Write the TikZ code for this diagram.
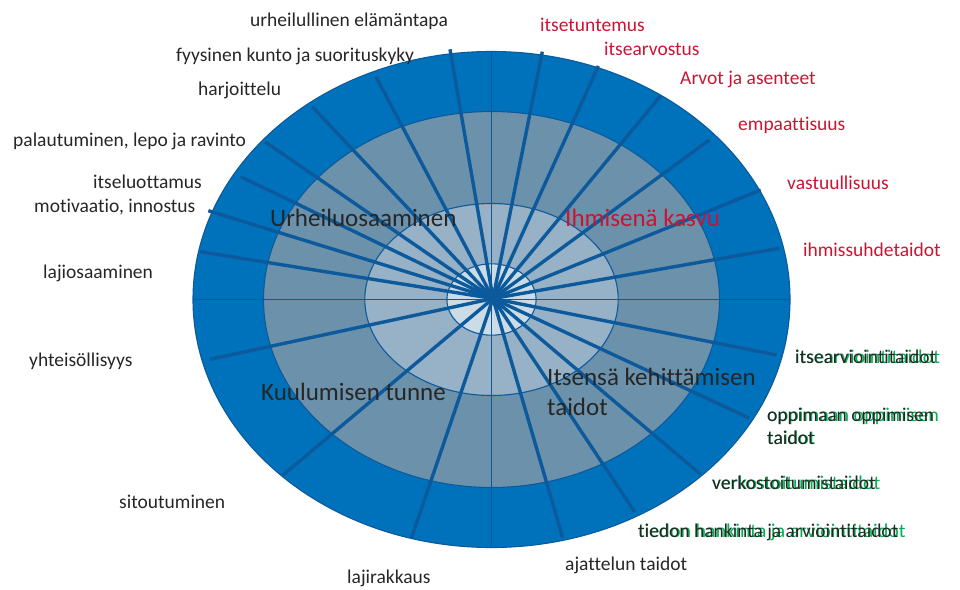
\documentclass[tikz,border=0pt]{standalone}
\usepackage{fontspec}
\setmainfont{Carlito}[Ligatures={NoCommon}]
\usepackage{graphicx}

\definecolor{ringA}{RGB}{0,114,188}
\definecolor{ringB}{RGB}{107,145,171}
\definecolor{ringC}{RGB}{151,177,198}
\definecolor{ringD}{RGB}{204,220,230}
\definecolor{spoke}{RGB}{12,90,156}
\definecolor{txt}{RGB}{38,38,38}
\definecolor{txtred}{RGB}{204,20,50}
\definecolor{txtgreen}{RGB}{0,176,80}

\tikzset{
  ring/.style={draw=spoke, line width=1.1pt},
  axisline/.style={draw=spoke, line width=1.1pt},
  spokeline/.style={draw=spoke, line width=3.4pt},
  lbl/.style={anchor=base west, inner sep=0pt, text=txt, font=\fontsize{19.5}{23}\selectfont},
  lblred/.style={lbl, text=txtred},
  big/.style={anchor=base west, inner sep=0pt, text=txt, font=\fontsize{25}{30}\selectfont, align=left},
}

% black text printed over a slightly wider green copy of itself
\newcommand{\ghost}[1]{\rlap{\textcolor{txtgreen}{\scalebox{1.028}[1]{#1}}}#1}

\begin{document}
\begin{tikzpicture}[x=1pt, y=-1pt]
\useasboundingbox (0,0) rectangle (960,589);

% concentric rings
\coordinate (o) at (491.5,299.5);
\path[ring, fill=ringA] (o) ellipse [x radius=298.5pt, y radius=248pt];
\path[ring, fill=ringB] (o) ellipse [x radius=228pt, y radius=188pt];
\path[ring, fill=ringC] (o) ellipse [x radius=126.7pt, y radius=96pt];
\path[ring, fill=ringD] (o) ellipse [x radius=44.6pt, y radius=35.7pt];

% thin axes
\coordinate (top) at (491.5,51.5);
\coordinate (bot) at (491.5,547.5);
\coordinate (lft) at (193,299.5);
\coordinate (rgt) at (790,299.5);
\path[axisline] (top) -- (bot);
\path[axisline] (lft) -- (rgt);

% spokes
\coordinate (c) at (493,298.5);
\foreach \n/\px/\py in {
  s1/450/49.3, s2/376/76.7, s3/312.3/106.7, s4/265/141.7, s5/240.7/176.7,
  s6/208.3/210.7, s7/200/251.7, s8/210/359.3, s9/282.6/475.4, s10/411.5/538,
  s11/562.7/538, s12/634.7/512, s13/700.5/474.3, s14/749/418, s15/776.5/355,
  s16/779.3/248.3, s17/760.7/190, s18/709.3/140, s19/660.7/95.7, s20/598.3/66,
  s21/542.3/51.7}
{
  \coordinate (\n) at (\px,\py);
  \path[spokeline, line cap=butt] (c) -- (\n);
}

% sector titles
\node[big] (urh) at (270,226) {Urheiluosaaminen};
\node[big, text=txtred] (ihm) at (565,226) {Ihmisenä kasvu};
\node[big] (kuu) at (261,400) {Kuulumisen tunne};
\node[big] (its) at (547,415) {Itsensä kehittämisen\\taidot};

% left labels
\node[lbl] (l1) at (250,27) {urheilullinen elämäntapa};
\node[lbl] (l2) at (176,61) {fyysinen kunto ja suorituskyky};
\node[lbl] (l3) at (198,95) {harjoittelu};
\node[lbl] (l4) at (13,146) {palautuminen, lepo ja ravinto};
\node[lbl] (l5) at (93,188) {itseluottamus};
\node[lbl] (l6) at (34,212) {motivaatio, innostus};
\node[lbl] (l7) at (43,278) {lajiosaaminen};
\node[lbl] (l8) at (29,366) {yhteisöllisyys};
\node[lbl] (l9) at (119,508) {sitoutuminen};
\node[lbl] (l10) at (347,583.5) {lajirakkaus};
\node[lbl] (l11) at (565,570) {ajattelun taidot};

% right labels, red
\node[lblred] (r1) at (540,31) {itsetuntemus};
\node[lblred] (r2) at (604,55) {itsearvostus};
\node[lblred] (r3) at (680,84) {Arvot ja asenteet};
\node[lblred] (r4) at (738,130) {empaattisuus};
\node[lblred] (r5) at (787,189) {vastuullisuus};
\node[lblred] (r6) at (803,256) {ihmissuhdetaidot};

% right labels, black over green
\node[lbl] (k1) at (795,363) {\ghost{itsearviointitaidot}};
\node[lbl] (k2) at (767,421) {\ghost{oppimaan oppimisen}};
\node[lbl] (k3) at (767,444) {\ghost{taidot}};
\node[lbl] (k4) at (712,489) {\ghost{verkostoitumistaidot}};
\node[lbl] (k5) at (638,537) {\ghost{tiedon hankinta ja arviointitaidot}};
\end{tikzpicture}
\end{document}
